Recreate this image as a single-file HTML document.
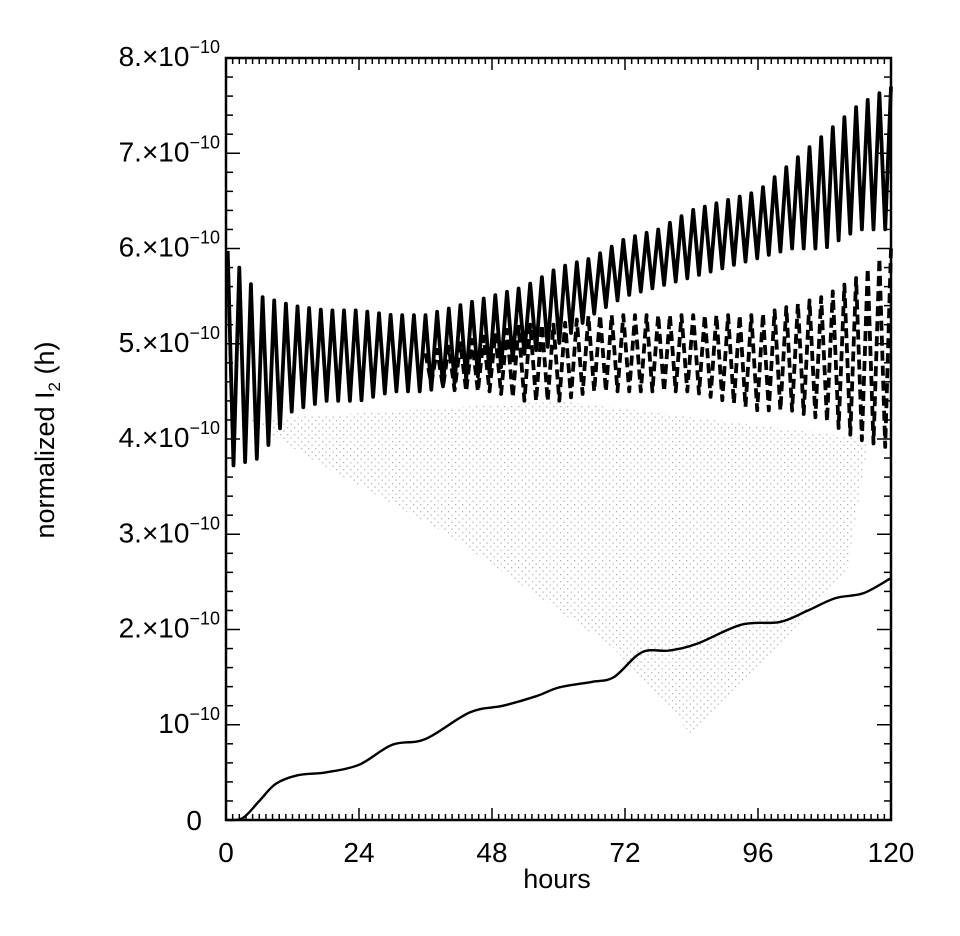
<!DOCTYPE html>
<html><head><meta charset="utf-8"><style>
html,body{margin:0;padding:0;background:#fff;}
svg{display:block;font-family:"Liberation Sans",sans-serif;}
</style></head><body>
<svg id="chart" width="960" height="936" viewBox="0 0 960 936" xmlns="http://www.w3.org/2000/svg">
<defs>
<pattern id="dots" width="7" height="7" patternUnits="userSpaceOnUse">
<rect x="0" y="0" width="1.3" height="1.3" fill="#444"/>
<rect x="3.5" y="3.5" width="1.3" height="1.3" fill="#444"/>
</pattern>
</defs>
<g id="plot"></g>
<text transform="translate(54,440) rotate(-90)" text-anchor="middle" font-size="27">normalized I<tspan font-size="17" dy="6">2</tspan><tspan dy="-6"> (h)</tspan></text>
<text x="557" y="888" text-anchor="middle" font-size="27">hours</text>
</svg>
<script>
const hours = [0,6,12,18,24,30,36,42,48,54,60,66,72,78,84,90,96,102,108,114,120];
const solidTop = [6.0,5.5,5.4,5.35,5.35,5.3,5.3,5.4,5.5,5.6,5.8,5.9,6.1,6.2,6.4,6.5,6.6,6.9,7.2,7.5,7.7];
const solidBottom = [3.7,3.8,4.3,4.4,4.4,4.5,4.5,4.6,4.7,4.9,5.0,5.3,5.5,5.6,5.7,5.8,5.9,6.0,6.0,6.2,6.2];
const dashHours = [36,42,48,54,60,66,72,78,84,90,96,102,108,114,120];
const dashTop = [4.9,5.0,5.1,5.2,5.2,5.3,5.3,5.3,5.3,5.3,5.3,5.4,5.5,5.7,6.0];
const dashBottom = [4.6,4.5,4.5,4.4,4.4,4.5,4.5,4.5,4.5,4.4,4.3,4.3,4.2,4.0,3.9];
const smoothHours = [0,3,6,9,13,18,24,30,36,44,50,56,60,66,70,75,80,85,93,100,105,110,115,120];
const smoothVals = [0,0.02,0.2,0.38,0.47,0.5,0.58,0.79,0.85,1.13,1.2,1.3,1.39,1.45,1.5,1.76,1.78,1.85,2.05,2.08,2.2,2.33,2.38,2.54];
const period = 2.1;
const yTicks = [0,1,2,3,4,5,6,7,8];
const yTickLabels = ["0","10","2.×10","3.×10","4.×10","5.×10","6.×10","7.×10","8.×10"];
const xTicks = [0,24,48,72,96,120];
const xTickLabels = ["0","24","48","72","96","120"];

const X0=226,X1=891,Y0=820,Y1=58;
const xs=h=>X0+(h/120)*(X1-X0);
const ys=v=>Y0-(v/8)*(Y0-Y1);
const NS="http://www.w3.org/2000/svg";
const g=document.getElementById('plot');
function mk(t,a){const e=document.createElementNS(NS,t);for(const k in a)e.setAttribute(k,a[k]);return e;}
function interp(hs,vs,h){if(h<=hs[0])return vs[0];for(let i=1;i<hs.length;i++){if(h<=hs[i]){const f=(h-hs[i-1])/(hs[i]-hs[i-1]);return vs[i-1]+f*(vs[i]-vs[i-1]);}}return vs[vs.length-1];}

let sh=[[xs(4),ys(4.2)],[xs(60),ys(4.4)],[xs(116),ys(4.0)],[xs(112),ys(2.6)],[xs(96),ys(1.6)],[xs(84),ys(0.9)],[xs(70),ys(1.8)],[xs(40),ys(3.0)],[xs(15),ys(3.8)]];
const shade=mk('polygon',{points:sh.map(p=>p.join(',')).join(' '),fill:'url(#dots)',opacity:'0.4'});


g.appendChild(shade);

function zig(hs,top,bot,start,end,dash,name){
  let pts=[];let k=0;
  for(let h=start;h<=end;h+=period/2){const v=(k%2==0)?interp(hs,top,h):interp(hs,bot,h);pts.push(xs(h).toFixed(1)+','+ys(v).toFixed(1));k++;}
  const p=mk('polyline',{points:pts.join(' '),fill:'none',stroke:'#000','stroke-width':'3.8','stroke-linejoin':'round'});
  if(dash)p.setAttribute('stroke-dasharray','10 5');
  
  
  g.appendChild(p);
}
zig(dashHours,dashTop,dashBottom,36,120,true,'dashed-series');
zig(hours,solidTop,solidBottom,0.3,120,false,'solid-oscillating-series');

// smooth curve via catmull-rom
const P=smoothHours.map((h,i)=>[xs(h),ys(smoothVals[i])]);
let d='M'+P[0][0]+','+P[0][1];
for(let i=0;i<P.length-1;i++){const p0=P[Math.max(0,i-1)],p1=P[i],p2=P[i+1],p3=P[Math.min(P.length-1,i+2)];
  const c1=[p1[0]+(p2[0]-p0[0])/6,p1[1]+(p2[1]-p0[1])/6],c2=[p2[0]-(p3[0]-p1[0])/6,p2[1]-(p3[1]-p1[1])/6];
  d+=' C'+c1.map(v=>v.toFixed(1))+' '+c2.map(v=>v.toFixed(1))+' '+p2.map(v=>v.toFixed(1));}
const sp=mk('path',{d:d,fill:'none',stroke:'#000','stroke-width':'2.4'});


g.appendChild(sp);

const box=mk('rect',{x:X0,y:Y1,width:X1-X0,height:Y0-Y1,fill:'none',stroke:'#000','stroke-width':'2.5'});


g.appendChild(box);
for(let h=0;h<=120;h+=1.2){const big=Math.abs(h/24-Math.round(h/24))<0.01;const L=big?12:6;
  g.appendChild(mk('line',{x1:xs(h),x2:xs(h),y1:Y0,y2:Y0-L,stroke:'#000','stroke-width':'1.5'}));
  g.appendChild(mk('line',{x1:xs(h),x2:xs(h),y1:Y1,y2:Y1+L,stroke:'#000','stroke-width':'1.5'}));}
for(let v=0;v<=8.001;v+=0.2){const big=Math.abs(v-Math.round(v))<0.01;const L=big?14:7;
  g.appendChild(mk('line',{x1:X0,x2:X0+L,y1:ys(v),y2:ys(v),stroke:'#000','stroke-width':'1.5'}));
  g.appendChild(mk('line',{x1:X1,x2:X1-L,y1:ys(v),y2:ys(v),stroke:'#000','stroke-width':'1.5'}));}
yTicks.forEach((v,i)=>{
  const t=mk('text',{x:X0-6,y:ys(v)+8,'text-anchor':'end','font-size':'28'});
  if(v===0){t.textContent=yTickLabels[i];t.setAttribute('x',X0-24);t.setAttribute('y',ys(v)+10);}
  else{t.textContent=yTickLabels[i];const s=mk('tspan',{dy:'-13','font-size':'18'});s.textContent='\u221210';t.appendChild(s);}
  
  
  document.getElementById('chart').appendChild(t);
});
xTicks.forEach((h,i)=>{
  const t=mk('text',{x:xs(h),y:Y0+42,'text-anchor':'middle','font-size':'28'});
  t.textContent=xTickLabels[i];
  
  
  document.getElementById('chart').appendChild(t);
});
</script>
</body></html>
